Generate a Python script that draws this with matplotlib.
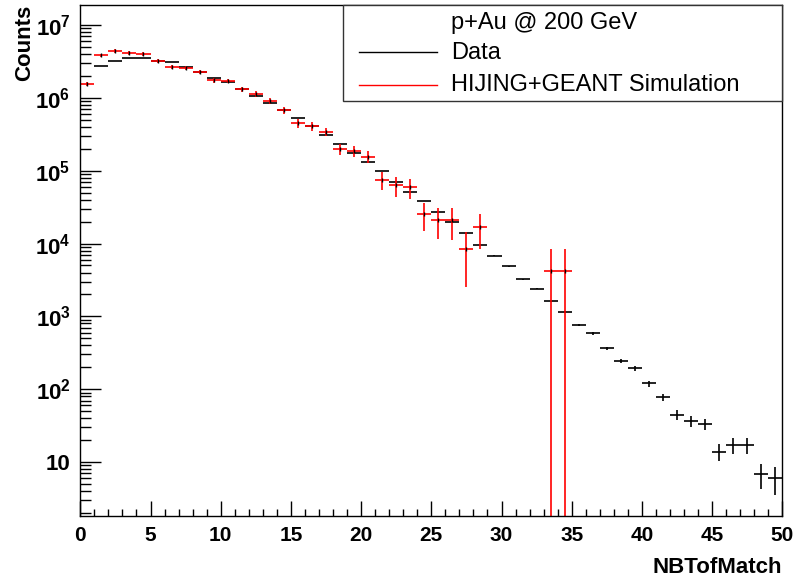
import numpy as np
import matplotlib
matplotlib.use("Agg")
import matplotlib.pyplot as plt
from matplotlib.ticker import FixedLocator, FuncFormatter, LogLocator, NullFormatter
from matplotlib.patches import Rectangle
from matplotlib.lines import Line2D

plt.rcParams['font.family'] = ['Liberation Sans', 'DejaVu Sans']
plt.rcParams['mathtext.fontset'] = 'custom'
plt.rcParams['mathtext.rm'] = 'Liberation Sans:bold'
plt.rcParams['mathtext.bf'] = 'Liberation Sans:bold'

# bin edges 0..50, ancho 1
bordes = np.arange(0, 51)

# datos (negro), bin 0 vacio
datos = [np.nan, 2.73e6, 3.16e6, 3.49e6, 3.49e6, 3.24e6, 3.08e6, 2.62e6, 2.26e6, 1.89e6,
         1.63e6, 1.31e6, 1.07e6, 8.4e5, 6.74e5, 5.28e5, 4.06e5, 3.09e5, 2.34e5, 1.75e5,
         1.33e5, 9.8e4, 6.98e4, 5.13e4, 3.87e4, 2.73e4, 1.95e4, 1.39e4, 9.55e3, 6.8e3,
         4.87e3, 3.25e3, 2.4e3, 1.61e3, 1.15e3, 759, 585, 367, 243, 193,
         120, 78, 45, 36.5, 33.6, 13.9, 17.1, 17.1, 6.9, 6.0]
datos_err = [0, 1650, 1780, 1870, 1870, 1810, 1750, 1620, 1500, 1370,
             1280, 1150, 1030, 920, 820, 730, 630, 560, 480, 420,
             365, 313, 264, 226, 197, 165, 140, 118, 98, 82,
             70, 57, 49, 40, 34, 27.5, 24.2, 19.2, 15.6, 13.9,
             11.0, 8.8, 6.7, 6.0, 5.8, 3.7, 4.1, 4.1, 2.6, 2.45]

# simulacion (rojo), solo bins 0-28 y 33-34
sim = [1.55e6, 3.84e6, 4.4e6, 4.13e6, 4.0e6, 3.24e6, 2.65e6, 2.57e6, 2.26e6, 1.74e6,
       1.70e6, 1.31e6, 1.14e6, 9.1e5, 6.74e5, 4.47e5, 4.06e5, 3.43e5, 1.98e5, 1.86e5,
       1.56e5, 7.45e4, 6.3e4, 5.9e4, 2.54e4, 2.1e4, 2.08e4, 8.4e3, 1.7e4, np.nan,
       np.nan, np.nan, np.nan, 4.15e3, 4.15e3, np.nan, np.nan, np.nan, np.nan, np.nan,
       np.nan, np.nan, np.nan, np.nan, np.nan, np.nan, np.nan, np.nan, np.nan, np.nan]
sim_err = [1.0e5, 2.0e5, 2.5e5, 2.3e5, 2.2e5, 2.0e5, 1.7e5, 1.6e5, 1.5e5, 1.3e5,
           1.2e5, 1.0e5, 1.0e5, 8e4, 7e4, 6e4, 5.5e4, 4.5e4, 3.5e4, 3.2e4,
           3.0e4, 2.1e4, 1.9e4, 1.8e4, 1.05e4, 9.5e3, 9.5e3, 5.9e3, 8.7e3, 0,
           0, 0, 0, 4.3e3, 4.3e3, 0, 0, 0, 0, 0,
           0, 0, 0, 0, 0, 0, 0, 0, 0, 0]

ymin, ymax = 1.82, 1.9e7

W, H = 794, 579
fig = plt.figure(figsize=(W / 100, H / 100), dpi=100)
ax = fig.add_axes([80.3 / W, 1 - 516 / H, 702 / W, (516 - 4.7) / H])


def dibujar(valores, errores, color):
    valores = np.array(valores, dtype=float)
    errores = np.array(errores, dtype=float)
    ok = ~np.isnan(valores)
    centros = 0.5 * (bordes[:-1] + bordes[1:])
    ax.hlines(valores[ok], bordes[:-1][ok], bordes[1:][ok], color=color, lw=1.2)
    bajo = np.maximum(valores - errores, ymin * 0.5)
    ax.vlines(centros[ok], bajo[ok], (valores + errores)[ok], color=color, lw=1.2)
    return centros[ok], valores[ok]


dibujar(datos, datos_err, 'black')
cx, cy = dibujar(sim, sim_err, '#ff0000')
ax.plot(cx, cy, ls='none', marker='|', ms=3, mew=1, color='black')

ax.set_yscale('log')
ax.set_xlim(0, 50)
ax.set_ylim(ymin, ymax)

ax.xaxis.set_major_locator(FixedLocator(np.arange(0, 51, 5)))
ax.xaxis.set_minor_locator(FixedLocator(np.arange(0, 51, 1)))
ax.yaxis.set_major_locator(FixedLocator([1e1, 1e2, 1e3, 1e4, 1e5, 1e6, 1e7]))
ax.yaxis.set_minor_locator(LogLocator(base=10, subs=np.arange(2, 10), numticks=100))
ax.yaxis.set_minor_formatter(NullFormatter())


def etiqueta_y(v, pos):
    e = int(round(np.log10(v)))
    if e == 1:
        return '10'
    return r'$\mathbf{10^{%d}}$' % e


ax.yaxis.set_major_formatter(FuncFormatter(etiqueta_y))
ax.xaxis.set_major_formatter(FuncFormatter(lambda v, p: '%d' % v))

ax.tick_params(axis='x', which='major', direction='in', length=10.8, width=1, pad=7,
               labelsize=15, top=False)
ax.tick_params(axis='x', which='minor', direction='in', length=5.4, width=1, top=False)
ax.tick_params(axis='y', which='major', direction='in', length=15.4, width=1, pad=7,
               labelsize=16, right=False)
ax.tick_params(axis='y', which='minor', direction='in', length=8.1, width=1, right=False)
for lab in ax.get_xticklabels() + ax.get_yticklabels():
    lab.set_fontweight('bold')
for s in ax.spines.values():
    s.set_linewidth(1.0)

# titulos de ejes
fig.text(25 / W, 1 - 5 / H, 'Counts', rotation=90, ha='center', va='top',
         fontsize=16, fontweight='bold')
fig.text(782 / W, 1 - 572.7 / H, 'NBTofMatch', ha='right', va='baseline',
         fontsize=16, fontweight='bold')

# leyenda estilo ROOT
fig.add_artist(Rectangle((343 / W, 1 - 101 / H), (782 - 343) / W, (101 - 5) / H,
                         transform=fig.transFigure, facecolor='white',
                         edgecolor='#333333', lw=1.0, zorder=5))
fig.text(451 / W, 1 - 29.5 / H, 'p+Au @ 200 GeV', fontsize=17, va='baseline', zorder=6)
fig.add_artist(Line2D([359 / W, 437 / W], [1 - 51.7 / H] * 2, color='black', lw=1,
                      transform=fig.transFigure, zorder=6))
fig.text(451 / W, 1 - 59.3 / H, 'Data', fontsize=17, va='baseline', zorder=6)
fig.add_artist(Line2D([359 / W, 437 / W], [1 - 85 / H] * 2, color='#ff0000', lw=1,
                      transform=fig.transFigure, zorder=6))
fig.text(451 / W, 1 - 91 / H, 'HIJING+GEANT Simulation', fontsize=17, va='baseline', zorder=6)

fig.savefig('out.png', dpi=100)
